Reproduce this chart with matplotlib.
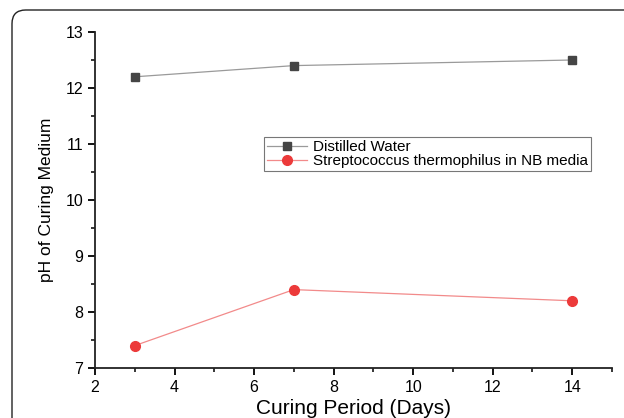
import matplotlib
matplotlib.use('Agg')
import matplotlib.pyplot as plt
from matplotlib.patches import FancyBboxPatch
from matplotlib.ticker import MultipleLocator

plt.rcParams['font.family'] = ['Liberation Sans', 'DejaVu Sans']

# data
days = [3, 7, 14]
distilled = [12.2, 12.4, 12.5]
strepto = [7.4, 8.4, 8.2]

fig = plt.figure(figsize=(6.24, 4.18), dpi=100)

# rounded frame around the figure (only top-left corner visible)
frame = FancyBboxPatch((12 / 624, -0.3), 1.2, 1.3 - 10 / 418,
                       boxstyle='round,pad=0,rounding_size=0.022',
                       mutation_aspect=624 / 418,
                       transform=fig.transFigure, fill=False,
                       edgecolor='#222222', linewidth=1.0)
fig.patches.append(frame)

ax = fig.add_axes([95 / 624, 50 / 418, 517 / 624, 336 / 418])

ax.plot(days, distilled, color='#9a9a9a', linewidth=0.9, marker='s',
        markersize=6, markerfacecolor='#454545', markeredgecolor='#454545',
        label='Distilled Water')
ax.plot(days, strepto, color='#f28a8a', linewidth=0.9, marker='o',
        markersize=7, markerfacecolor='#ec3a3a', markeredgecolor='#ec3a3a',
        label='Streptococcus thermophilus in NB media')

ax.set_xlim(2, 15)
ax.set_ylim(7, 13)
ax.xaxis.set_major_locator(MultipleLocator(2))
ax.xaxis.set_minor_locator(MultipleLocator(1))
ax.yaxis.set_major_locator(MultipleLocator(1))
ax.yaxis.set_minor_locator(MultipleLocator(0.5))

for s in ['top', 'right']:
    ax.spines[s].set_visible(False)
for s in ['left', 'bottom']:
    ax.spines[s].set_linewidth(1.3)
    ax.spines[s].set_color('#222222')

ax.tick_params(which='major', direction='out', length=5, width=1.3, labelsize=11.5)
ax.tick_params(which='minor', direction='out', length=3, width=1.1)

ax.set_xlabel('Curing Period (Days)', fontsize=15, labelpad=3)
ax.set_ylabel('pH of Curing Medium', fontsize=12.5, labelpad=8)

leg = ax.legend(loc='upper left', bbox_to_anchor=(0.327, 0.687), fontsize=11,
                frameon=True, fancybox=False, edgecolor='#555555',
                borderpad=0.2, handlelength=2.6, handletextpad=0.4,
                labelspacing=0.0, borderaxespad=0)
leg.get_frame().set_linewidth(0.8)

fig.savefig('out.png', dpi=100)
